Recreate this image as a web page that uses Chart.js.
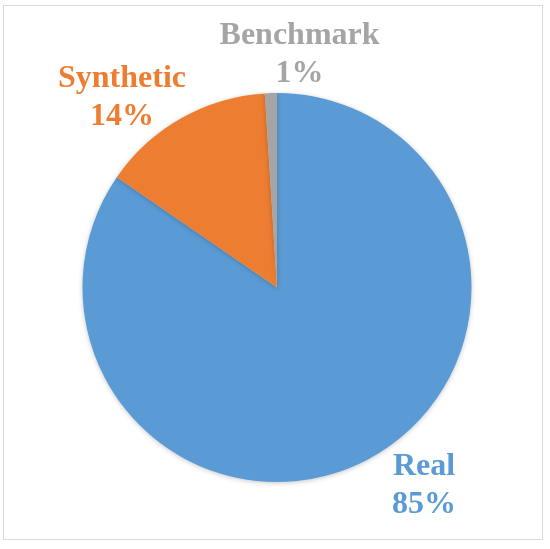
<!DOCTYPE html>
<html>
<head>
<meta charset="utf-8">
<script src="https://cdn.jsdelivr.net/npm/chart.js@4/dist/chart.umd.min.js"></script>
<style>
  html, body { margin: 0; padding: 0; background: #fff; }
  #wrap { position: relative; width: 550px; height: 549px; }
  #frame {
    position: absolute; left: 3px; top: 5px; width: 538px; height: 533px;
    border: 1px solid #d9d9d9; pointer-events: none;
  }
  canvas { position: absolute; left: 0; top: 0; }
</style>
</head>
<body>
<div id="wrap">
  <canvas id="chart" width="550" height="549"></canvas>
  <div id="frame"></div>
</div>
<script>
const categories = ["Real", "Synthetic", "Benchmark"];
const shares = [84.6, 14.4, 1.0];
const pctLabels = ["85%", "14%", "1%"];
const sliceColors = ["#5b9bd5", "#ed7d31", "#a5a5a5"];

// label anchors, in units of the pie radius from its centre (Excel "best fit" spots)
const labelSpots = [
  [0.756, 1.062],
  [-0.797, -0.933],
  [0.116, -1.152],
];

const pieShadow = {
  id: "pieShadow",
  beforeDatasetsDraw(chart) {
    const ctx = chart.ctx;
    ctx.save();
    ctx.shadowColor = "rgba(0,0,0,0.22)";
    ctx.shadowBlur = 5;
    ctx.shadowOffsetY = 1;
  },
  afterDatasetsDraw(chart) {
    chart.ctx.restore();
  },
};

const outsideLabels = {
  id: "outsideLabels",
  afterDraw(chart) {
    const ctx = chart.ctx;
    const arcs = chart.getDatasetMeta(0).data;
    ctx.save();
    ctx.font = "bold 32px 'Liberation Serif', 'Times New Roman', serif";
    ctx.textAlign = "center";
    ctx.textBaseline = "alphabetic";
    arcs.forEach((arc, i) => {
      const r = arc.outerRadius;
      const x = arc.x + labelSpots[i][0] * r;
      const y = arc.y + labelSpots[i][1] * r;
      ctx.fillStyle = sliceColors[i];
      ctx.fillText(categories[i], x, y - 19);
      ctx.fillText(pctLabels[i], x, y + 19);
    });
    ctx.restore();
  },
};

new Chart(document.getElementById("chart"), {
  type: "pie",
  data: {
    labels: categories,
    datasets: [
      {
        data: shares,
        backgroundColor: sliceColors,
        borderColor: "#ffffff",
        borderWidth: 0,
      },
    ],
  },
  options: {
    responsive: false,
    animation: false,
    devicePixelRatio: 1,
    layout: { padding: { left: 82.5, right: 78.5, top: 93, bottom: 67 } },
    plugins: {
      legend: { display: false },
      tooltip: { enabled: false },
    },
  },
  plugins: [pieShadow, outsideLabels],
});
</script>
</body>
</html>
